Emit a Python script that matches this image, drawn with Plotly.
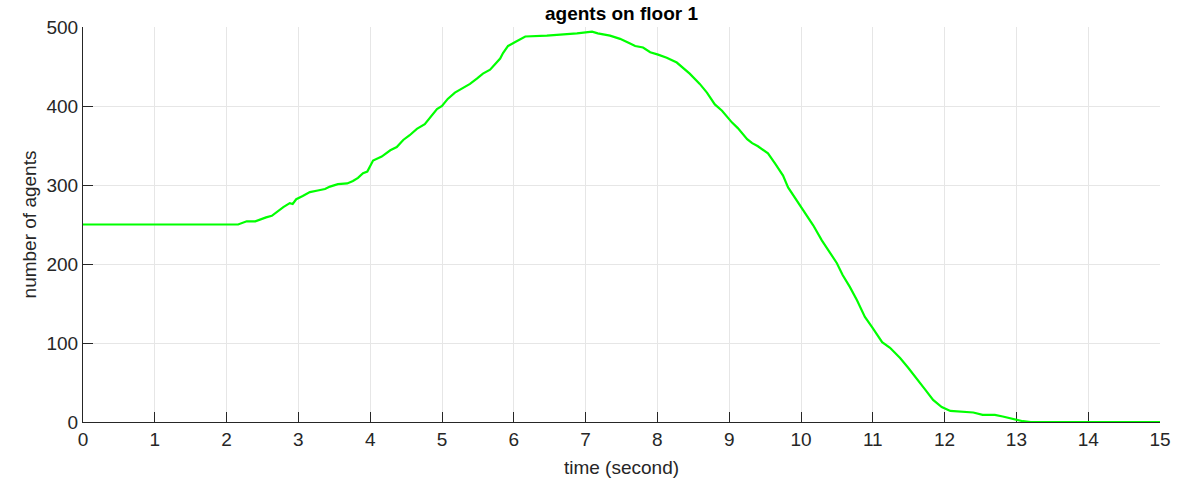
import plotly.graph_objects as go

time_s = [0, 2.16, 2.28, 2.40, 2.55, 2.63, 2.79, 2.88, 2.92, 2.97, 3.06, 3.16, 3.27, 3.37, 3.44,
          3.55, 3.68, 3.76, 3.83, 3.90, 3.96, 4.00, 4.04, 4.16, 4.28, 4.37, 4.46, 4.55, 4.65,
          4.76, 4.83, 4.93, 5.00, 5.08, 5.18, 5.25, 5.39, 5.49, 5.57, 5.67, 5.81, 5.85, 5.92,
          6.02, 6.16, 6.46, 6.64, 6.88, 7.09, 7.17, 7.34, 7.48, 7.62, 7.69, 7.80, 7.90, 8.01,
          8.13, 8.27, 8.36, 8.45, 8.59, 8.69, 8.80, 8.90, 9.04, 9.12, 9.25, 9.32, 9.40, 9.54,
          9.64, 9.75, 9.82, 9.92, 10.03, 10.17, 10.29, 10.40, 10.50, 10.58, 10.68, 10.78,
          10.89, 10.99, 11.13, 11.24, 11.38, 11.49, 11.62, 11.73, 11.84, 11.96, 12.08, 12.26,
          12.40, 12.53, 12.70, 12.81, 12.95, 13.09, 13.2, 15]
agents = [250, 250, 254, 254, 259, 261, 272, 277, 276, 282, 286, 291, 293, 295, 298,
          301, 302, 305, 309, 315, 317, 325, 331, 336, 344, 348, 357, 363, 371,
          377, 385, 396, 400, 409, 417, 421, 428, 435, 441, 446, 460, 467, 476,
          481, 488, 489, 490, 492, 494, 492, 489, 485, 479, 476, 474, 468, 465,
          461, 455, 448, 441, 428, 417, 402, 394, 379, 372, 358, 353, 349, 340,
          327, 312, 297, 283, 268, 249, 230, 215, 201, 186, 171, 154,
          133, 120, 101, 94, 81, 69, 53, 41, 28, 19, 14, 13,
          12, 9, 9, 7, 4, 1, 0, 0]

x_ticks = list(range(0, 16))
y_ticks = [0, 100, 200, 300, 400, 500]

fig = go.Figure()
fig.add_trace(go.Scatter(x=time_s, y=agents, mode="lines",
                         line=dict(color="#00ff00", width=2.2), showlegend=False))

font_family = "Liberation Sans, Arial, Helvetica, sans-serif"
axis_common = dict(showgrid=True, gridcolor="#e6e6e6", gridwidth=1, zeroline=False,
                   showline=True, linecolor="#262626", linewidth=1,
                   ticks="inside", ticklen=10, tickcolor="#262626", tickwidth=1,
                   tickfont=dict(family=font_family, size=19, color="#262626"),
                   layer="below traces", mirror=False, automargin=False)

fig.update_xaxes(range=[0, 15], tickvals=x_ticks, ticktext=[str(v) for v in x_ticks],
                 title=dict(text="time (second)", font=dict(family=font_family, size=19, color="#262626"),
                            standoff=11),
                 **axis_common)
fig.update_yaxes(range=[0, 500], tickvals=y_ticks, ticktext=[str(v) for v in y_ticks],
                 title=dict(text="number of agents", font=dict(family=font_family, size=19, color="#262626"),
                            standoff=4),
                 **axis_common)

fig.update_layout(
    width=1199, height=479,
    margin=dict(l=83, r=39, t=27, b=57),
    paper_bgcolor="white", plot_bgcolor="white",
    title=dict(text="<b>agents on floor 1</b>", x=(83 + 1160) / 2 / 1199, xanchor="center",
               y=1 - 13 / 479, yanchor="middle",
               font=dict(family=font_family, size=19, color="black")),
)

fig.write_html("out.html", config={"displayModeBar": False},
               post_script="document.body.style.margin='0px';")
